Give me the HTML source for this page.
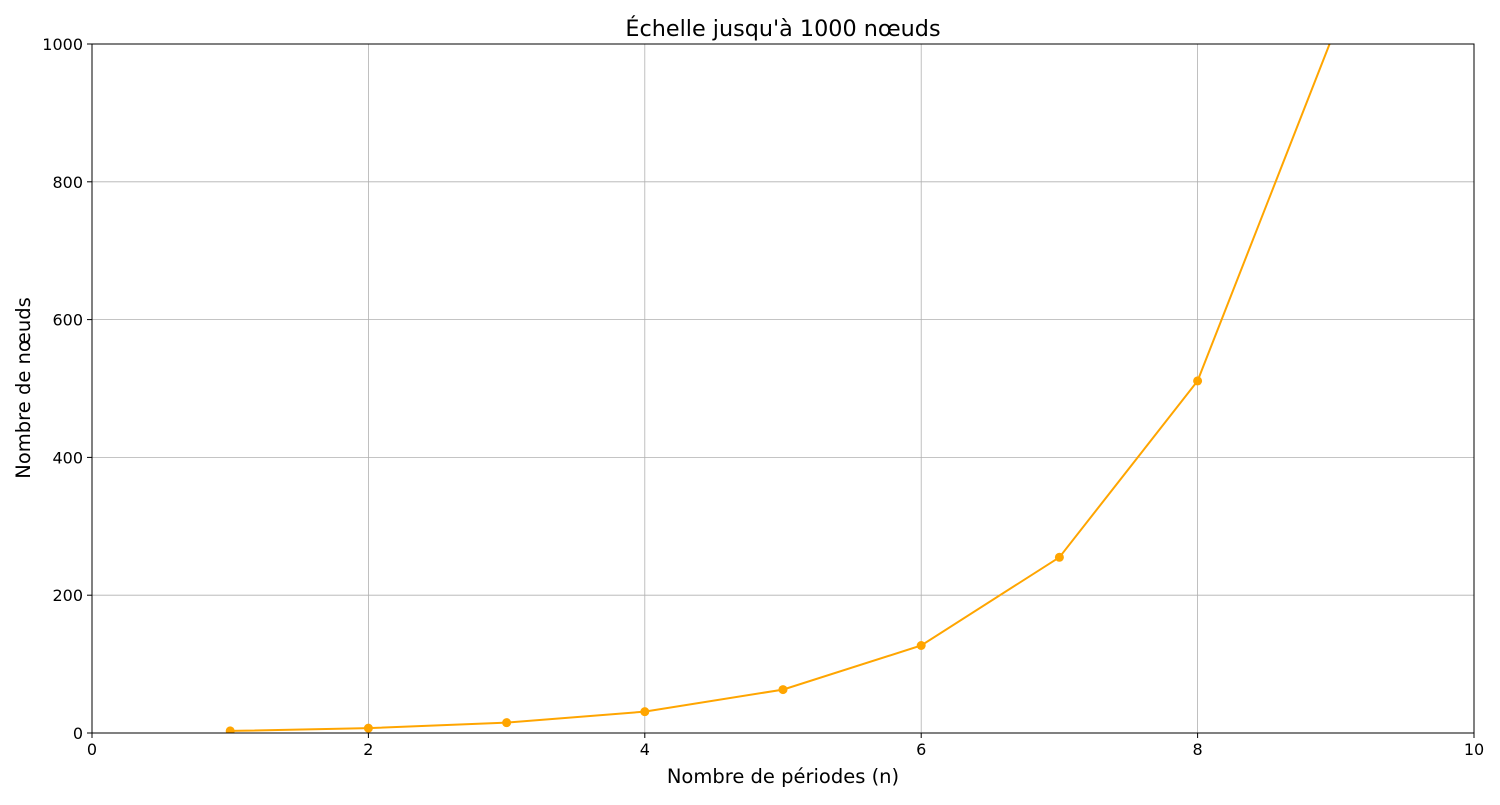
<!DOCTYPE html>
<html><head><meta charset="utf-8"><style>
body{margin:0;background:#fff}
svg text{font-family:"DejaVu Sans","Liberation Sans",sans-serif;fill:#000}
</style></head><body>
<svg id="chart" width="1500" height="800">
<defs><clipPath id="clip"><rect x="92" y="44" width="1382" height="689"/></clipPath></defs>
<g id="grid"></g>
<g id="series" clip-path="url(#clip)"></g>
<rect x="92" y="44" width="1382" height="689" fill="none" stroke="#000" stroke-width="1"/>
<g id="ticks"></g>
<text x="783" y="36" text-anchor="middle" font-size="22.3">Échelle jusqu'à 1000 nœuds</text>
<text x="783" y="783" text-anchor="middle" font-size="19.5">Nombre de périodes (n)</text>
<text x="30" y="388" text-anchor="middle" font-size="19.5" transform="rotate(-90 30 388)">Nombre de nœuds</text>
</svg>
<script>
const periods=[1,2,3,4,5,6,7,8,9,10];
const nodes=[3,7,15,31,63,127,255,511,1023,2047];
const xTicks=[0,2,4,6,8,10];
const yTicks=[0,200,400,600,800,1000];
const L=92,R=1474,T=44,B=733;
const xs=v=>L+(v-0)/10*(R-L);
const ys=v=>B-(v/1000)*(B-T);
const NS="http://www.w3.org/2000/svg";
function mk(tag,attrs,parent){const e=document.createElementNS(NS,tag);for(const k in attrs)e.setAttribute(k,attrs[k]);parent.appendChild(e);return e;}
const grid=document.getElementById('grid'),ticks=document.getElementById('ticks'),series=document.getElementById('series');
xTicks.forEach(t=>{
 const g=mk('line',{x1:xs(t),x2:xs(t),y1:T,y2:B,stroke:'#b0b0b0','stroke-width':0.8},grid);
 
 
 const tk=mk('line',{x1:xs(t),x2:xs(t),y1:B,y2:B+5,stroke:'#000'},ticks);
 
 
 const lb=mk('text',{x:xs(t),y:B+22,'text-anchor':'middle','font-size':16},ticks);
 lb.textContent=t;
 
 
});
yTicks.forEach(t=>{
 const g=mk('line',{x1:L,x2:R,y1:ys(t),y2:ys(t),stroke:'#b0b0b0','stroke-width':0.8},grid);
 
 
 const tk=mk('line',{x1:L-5,x2:L,y1:ys(t),y2:ys(t),stroke:'#000'},ticks);
 
 
 const lb=mk('text',{x:L-9,y:ys(t)+6,'text-anchor':'end','font-size':16},ticks);
 lb.textContent=t;
 
 
});
const pts=periods.map((p,i)=>xs(p)+','+ys(nodes[i])).join(' ');
const pl=mk('polyline',{points:pts,fill:'none',stroke:'#ffa500','stroke-width':2},series);


periods.forEach((p,i)=>{
 const c=mk('circle',{cx:xs(p),cy:ys(nodes[i]),r:4.5,fill:'#ffa500'},series);
 
 
});
</script>
</body></html>
